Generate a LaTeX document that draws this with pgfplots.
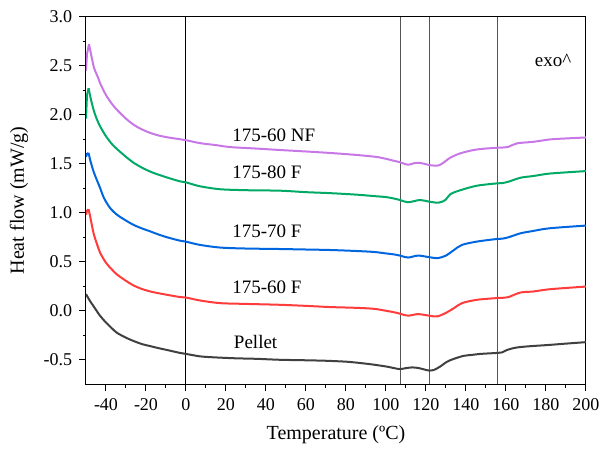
\documentclass[border=0pt]{standalone}
\usepackage{fontspec}
\setmainfont{Liberation Serif}
\usepackage{pgfplots}
\pgfplotsset{compat=1.18}
\definecolor{cpur}{HTML}{C878E6}
\definecolor{cgrn}{HTML}{00AA66}
\definecolor{cblu}{HTML}{0066E0}
\definecolor{cred}{HTML}{FF3B3B}
\definecolor{cgry}{HTML}{404040}
\definecolor{vline}{HTML}{555555}
\begin{document}
\begin{tikzpicture}
\begin{axis}[
 scale only axis, width=250pt, height=183.8pt,
 xmin=-50, xmax=200, ymin=-0.75, ymax=3,
 xtick={-40,-20,0,20,40,60,80,100,120,140,160,180,200}, minor x tick num=1,
 ytick={-0.5,0,0.5,1,1.5,2,2.5,3}, minor y tick num=1,
 tick pos=left, tick align=outside,
 major tick length=3.4pt, minor tick length=1.7pt,
 axis line style={line width=0.5pt},
 every tick/.style={black, line width=0.5pt},
 xticklabel={\rmfamily\pgfmathprintnumber[assume math mode=true]{\tick}},
 yticklabel={\rmfamily\pgfmathprintnumber[assume math mode=true,fixed,fixed zerofill,precision=1]{\tick}},
 tick label style={font=\rmfamily\fontsize{9}{10}\selectfont},
 label style={font=\fontsize{9.5}{11}\selectfont},
 xlabel={Temperature (ºC)}, ylabel={Heat flow (mW/g)},
 every axis x label/.style={at={(axis description cs:0.5,-0.138)},anchor=center},
 every axis y label/.style={at={(axis description cs:-0.134,0.5)},rotate=90,anchor=center},
 every axis plot/.append style={line width=1pt},
]
\addplot[black, line width=0.5pt] coordinates {(0,-0.75) (0,3)};
\addplot[vline, line width=0.6pt] coordinates {(107.1,-0.75) (107.1,3)};
\addplot[vline, line width=0.6pt] coordinates {(121.6,-0.75) (121.6,3)};
\addplot[vline, line width=0.6pt] coordinates {(155.6,-0.75) (155.6,3)};
% Pellet
\addplot[cgry, smooth, tension=0.5] coordinates {(-50,0.17) (-48,0.10) (-46,0.04) (-43,-0.05) (-40,-0.12) (-37,-0.18) (-34.5,-0.225) (-30,-0.275) (-26,-0.31) (-22,-0.34) (-18,-0.36) (-14,-0.38) (-9.5,-0.40) (-3,-0.43) (0,-0.44) (7,-0.465) (14,-0.475) (25,-0.485) (35,-0.49) (47,-0.50) (60,-0.505) (70,-0.51) (80.5,-0.52) (88,-0.535) (94,-0.55) (100.5,-0.57) (104,-0.585) (107,-0.595) (110,-0.585) (113,-0.578) (116,-0.583) (119,-0.598) (121.6,-0.61) (124,-0.603) (127,-0.57) (130.5,-0.52) (134,-0.49) (138.8,-0.46) (143,-0.45) (147.2,-0.44) (155.7,-0.43) (158,-0.425) (160.5,-0.40) (164,-0.38) (167.2,-0.37) (173,-0.36) (180.5,-0.35) (190,-0.335) (200,-0.32)};
% 175-60 F
\addplot[cred] coordinates {(-50,0.98) (-49.5,1.02) (-48.7,1.035)};
\addplot[cred, smooth, tension=0.5] coordinates {(-48.7,1.035) (-47.8,0.95) (-46.2,0.79) (-44.5,0.68) (-42.9,0.59) (-40,0.49) (-37,0.42) (-34.5,0.37) (-30,0.305) (-26.2,0.258) (-22,0.222) (-17.9,0.197) (-14,0.18) (-9.5,0.163) (-3,0.14) (0,0.135) (7,0.105) (17,0.078) (30,0.07) (47,0.061) (60,0.05) (72,0.038) (85,0.03) (94,0.02) (100,0.00) (104,-0.015) (107,-0.03) (111,-0.05) (116,-0.034) (121.6,-0.05) (125.5,-0.058) (129.7,-0.024) (134,0.027) (138,0.078) (145.5,0.112) (155.7,0.13) (158,0.132) (161.3,0.14) (167.2,0.186) (173.8,0.197) (182,0.22) (200,0.247)};
% 175-70 F
\addplot[cblu] coordinates {(-50,1.57) (-49.5,1.60) (-48.7,1.61)};
\addplot[cblu, smooth, tension=0.5] coordinates {(-48.7,1.61) (-47.8,1.53) (-46.2,1.42) (-44.5,1.33) (-42.9,1.25) (-41,1.15) (-38,1.05) (-34.5,0.98) (-30,0.92) (-26.2,0.876) (-22,0.84) (-17.9,0.81) (-14,0.78) (-9.5,0.75) (-3,0.715) (0,0.705) (7,0.672) (17,0.645) (30,0.635) (47,0.63) (60,0.625) (72,0.62) (85,0.61) (94,0.60) (100,0.585) (104,0.575) (107,0.563) (111,0.543) (116,0.563) (121.6,0.547) (125.5,0.537) (129.7,0.56) (134,0.62) (138,0.672) (145.5,0.706) (155.7,0.733) (158,0.735) (161.3,0.75) (167.2,0.79) (173.8,0.815) (182,0.842) (200,0.869)};
% 175-80 F
\addplot[cgrn] coordinates {(-50,1.96) (-49.5,2.20) (-48.7,2.27)};
\addplot[cgrn, smooth, tension=0.5] coordinates {(-48.7,2.27) (-47.8,2.18) (-46.2,2.05) (-44.5,1.95) (-42.9,1.88) (-40,1.78) (-37,1.70) (-34.5,1.65) (-30,1.57) (-26.2,1.51) (-22,1.46) (-17.9,1.42) (-14,1.39) (-9.5,1.36) (-3,1.32) (0,1.31) (7,1.27) (17,1.24) (30,1.23) (47,1.225) (60,1.21) (72,1.20) (85,1.185) (94,1.17) (100,1.16) (104,1.145) (107,1.13) (111,1.107) (117,1.13) (121.6,1.113) (126.3,1.103) (129.7,1.13) (132.2,1.19) (137.2,1.23) (145.5,1.276) (155.7,1.30) (158,1.302) (161.3,1.317) (167.2,1.357) (173.8,1.375) (182,1.40) (200,1.425)};
% 175-60 NF
\addplot[cpur] coordinates {(-50,2.45) (-49.5,2.62) (-48.5,2.72)};
\addplot[cpur, smooth, tension=0.5] coordinates {(-48.5,2.72) (-47.5,2.62) (-46,2.48) (-44,2.38) (-42.9,2.32) (-40,2.20) (-37,2.11) (-34.5,2.05) (-30,1.96) (-26,1.895) (-22,1.85) (-18,1.815) (-14,1.79) (-9.5,1.77) (-3,1.75) (0,1.74) (7,1.71) (15,1.69) (22,1.67) (35,1.655) (47,1.64) (60,1.625) (72,1.61) (85,1.59) (95,1.57) (100,1.55) (104,1.53) (107,1.515) (111,1.49) (114,1.505) (116.3,1.51) (119,1.50) (121.6,1.487) (125.5,1.48) (128,1.50) (132,1.56) (137,1.605) (143.8,1.64) (150,1.655) (155.7,1.663) (158,1.665) (161.3,1.673) (165.5,1.708) (173.8,1.724) (182,1.748) (190,1.758) (200,1.768)};
\node[anchor=base west, inner sep=0, font=\fontsize{9.5}{11}\selectfont] at (axis cs:23,1.724) {175-60 NF};
\node[anchor=base west, inner sep=0, font=\fontsize{9.5}{11}\selectfont] at (axis cs:23,1.351) {175-80 F};
\node[anchor=base west, inner sep=0, font=\fontsize{9.5}{11}\selectfont] at (axis cs:23,0.747) {175-70 F};
\node[anchor=base west, inner sep=0, font=\fontsize{9.5}{11}\selectfont] at (axis cs:23,0.180) {175-60 F};
\node[anchor=base west, inner sep=0, font=\fontsize{9.5}{11}\selectfont] at (axis cs:23.8,-0.38) {Pellet};
\node[anchor=base west, inner sep=0, font=\fontsize{9.5}{11}\selectfont] at (axis cs:174.3,2.49) {exo\textasciicircum};
\end{axis}
\pgfresetboundingbox
\useasboundingbox (-43pt,-32.35pt) rectangle (258pt,192.15pt);
\end{tikzpicture}
\end{document}
